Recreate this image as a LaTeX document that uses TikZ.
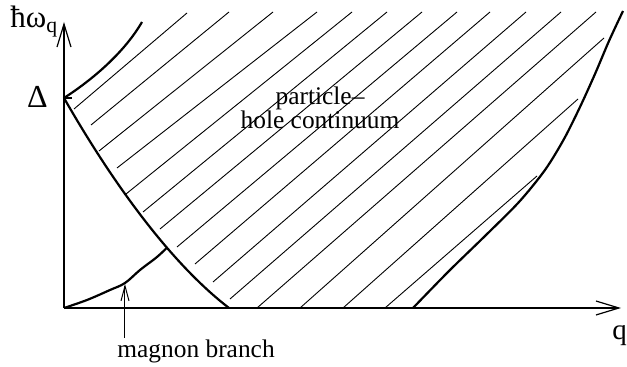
\documentclass[tikz,border=0pt]{standalone}
\usepackage{fontspec}
\setmainfont{Liberation Serif}
\usetikzlibrary{arrows.meta}
\tikzset{
  axis/.style  ={line width=0.6pt,-{Straight Barb[length=11.5pt,width=7pt,line width=0.6pt]}},
  bound/.style ={line width=1.1pt},
  hatch/.style ={line width=0.45pt},
  lbl/.style   ={inner sep=0pt,font=\fontsize{12.7}{12}\selectfont},
  pointer/.style={line width=0.5pt,-{Straight Barb[length=7.5pt,width=4pt,line width=0.5pt]}},
}

\begin{document}
\begin{tikzpicture}[x=0.5pt,y=0.5pt]
  \useasboundingbox (-64,-59) rectangle (563,308);
  \coordinate (O) at (0,0);
  \coordinate (ytop) at (0,286);
  \coordinate (xend) at (557,0);
  \coordinate (gap) at (0,210);
  \coordinate (cross) at (103,60.4);
  \coordinate (kink) at (165,0);
  \coordinate (edge) at (349,0);
  \coordinate (mtip) at (61,24);
  % axes
  \draw[axis] (O) -- (ytop);
  \draw[axis] (O) -- (xend);
  \draw[line width=0.6pt] (gap) ++(-1,0) -- ++(9,0);
  \node[lbl,anchor=base west,font=\fontsize{15.5}{15}\selectfont] (yl) at (-54,280)
       {ħω\textsubscript{q}};
  \node[lbl,anchor=base west,font=\fontsize{14.5}{14}\selectfont] (xl) at (548,-32) {q};
  \node[lbl,anchor=base east,font=\fontsize{16}{16}\selectfont] (dl) at (-16,200) {Δ};
  % hatching of the continuum
  \draw[hatch]
    (10,199) -- (123,295)  (27,183) -- (165,296)  (35,157) -- (209,296)
    (53,140) -- (253,296)  (62,114) -- (288,296)  (79,96) -- (323,296)
    (96,79) -- (358,296)   (113,61) -- (393,296)  (131,44) -- (426,296)
    (149,26) -- (462,296)  (166,9) -- (497,296)   (193,0) -- (532,296)
    (236,0) -- (540,270)   (279,0) -- (514,209)   (321,0) -- (473,132);
  % boundaries
  \draw[bound] (gap) .. controls (28,228) and (60,255) .. (78,286);
  \draw[bound] (gap) .. controls (40,140) and (100,50) .. (kink);
  \draw[bound] plot[smooth] coordinates
    {(349,0) (385,37) (421,72) (455,106) (481,138) (500,169) (516,201) (531,234) (545,267) (559,297)};
  % magnon branch
  \draw[bound] plot[smooth,tension=0.6] coordinates
    {(0,0) (23,8) (46,18) (61,25) (76,38) (93,51) (103,60.4)};
  \node[lbl,align=center] (ph) at (256,200) {particle–\\hole continuum};
  \node[lbl,anchor=base west] (mb) at (53,-50) {magnon branch};
  \draw[pointer] (mtip |- mb.north) ++(0,2) -- (mtip);
\end{tikzpicture}
\end{document}
